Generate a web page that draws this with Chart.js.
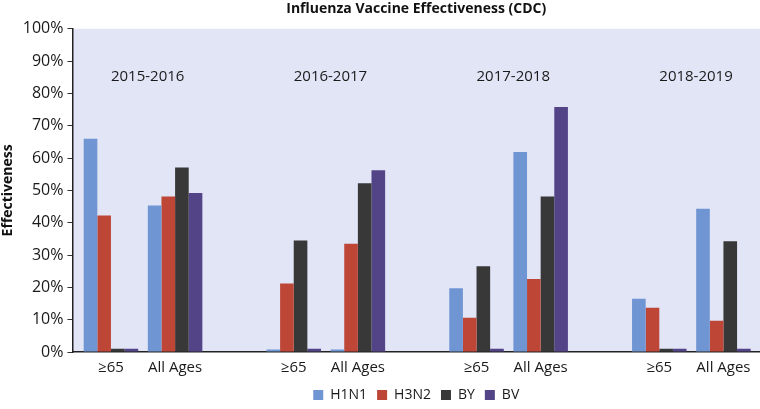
<!DOCTYPE html>
<html>
<head>
<meta charset="utf-8">
<script src="https://cdn.jsdelivr.net/npm/chart.js@4"></script>
<style>
  html, body { margin: 0; padding: 0; background: #fff; }
  #wrap { width: 760px; height: 409px; position: relative; }
</style>
</head>
<body>
<div id="wrap"><canvas id="chart"></canvas></div>
<script>
// data
const seasons = ['2015-2016', '2016-2017', '2017-2018', '2018-2019'];
const ageGroups = ['\u226565', 'All Ages'];
const h1n1 = [66, 45.3, 0.8, 0.8, 19.7, 61.9, 16.5, 44.3];
const h3n2 = [42.2, 48.1, 21.2, 33.5, 10.6, 22.6, 13.7, 9.7];
const by   = [1, 57.1, 34.5, 52.2, 26.5, 48.1, 1, 34.3];
const bv   = [1, 49.2, 1, 56.2, 1, 75.8, 1, 1];
const yTicks = [0, 10, 20, 30, 40, 50, 60, 70, 80, 90, 100];

// layout of the x axis: one unit between age groups, wider step between seasons
const seasonStep = 2.85;
const xPos = [];
const xLabels = [];
seasons.forEach((s, i) => {
  ageGroups.forEach((g, j) => {
    xPos.push(i * seasonStep + j);
    xLabels.push(g);
  });
});
const pts = arr => arr.map((v, i) => ({ x: xPos[i], y: v }));

const FONT = "'Open Sans', 'Noto Sans', sans-serif";

const plotBg = {
  id: 'plotBg',
  beforeDraw(chart) {
    const a = chart.chartArea, ctx = chart.ctx;
    ctx.save();
    ctx.fillStyle = '#e1e5f6';
    ctx.fillRect(a.left, a.top, a.right - a.left, a.bottom - a.top);
    ctx.restore();
  }
};

// title and legend are centred over the plot, not the whole canvas;
// legend pulled up a little closer to the axis labels
const centreOnPlot = {
  id: 'centreOnPlot',
  afterLayout(chart) {
    const a = chart.chartArea;
    [chart.titleBlock, chart.legend].forEach(b => {
      if (!b) return;
      b.left = a.left;
      b.right = a.right;
    });
    if (chart.legend) {
      chart.legend.top -= 5;
      chart.legend.bottom -= 5;
    }
  }
};

const seasonLabels = {
  id: 'seasonLabels',
  afterDatasetsDraw(chart) {
    const ctx = chart.ctx, xs = chart.scales.x, ys = chart.scales.y;
    ctx.save();
    ctx.font = '15px ' + FONT;
    ctx.fillStyle = '#1a1a1a';
    ctx.textAlign = 'left';
    ctx.textBaseline = 'middle';
    seasons.forEach((s, i) => {
      ctx.fillText(s, xs.getPixelForValue(xPos[i * 2]), ys.getPixelForValue(85.3));
    });
    ctx.restore();
  }
};

new Chart(document.getElementById('chart'), {
  type: 'bar',
  data: {
    datasets: [
      { label: 'H1N1', data: pts(h1n1), backgroundColor: '#6f95d2' },
      { label: 'H3N2', data: pts(h3n2), backgroundColor: '#bd4636' },
      { label: 'BY', data: pts(by), backgroundColor: '#383838' },
      { label: 'BV', data: pts(bv), backgroundColor: '#524487' }
    ]
  },
  options: {
    responsive: true,
    maintainAspectRatio: false,
    animation: false,
    datasets: { bar: { categoryPercentage: 0.85, barPercentage: 1 } },
    layout: { padding: { left: 0, right: 0, top: 0, bottom: -8 } },
    scales: {
      x: {
        type: 'linear',
        min: -0.6,
        max: 10.12,
        offset: false,
        afterBuildTicks(scale) { scale.ticks = xPos.map(v => ({ value: v })); },
        ticks: {
          autoSkip: false,
          maxRotation: 0,
          padding: 8,
          color: '#1a1a1a',
          font: { family: FONT, size: 15, lineHeight: 1 },
          callback: (v, i) => xLabels[i]
        },
        grid: { drawOnChartArea: false, drawTicks: false },
        border: { color: '#222', width: 1.5 }
      },
      y: {
        min: 0,
        max: 100,
        afterBuildTicks(scale) { scale.ticks = yTicks.map(v => ({ value: v })); },
        ticks: {
          padding: 4,
          color: '#1a1a1a',
          font: { family: FONT, size: 16 },
          callback: v => v + '%'
        },
        grid: { drawOnChartArea: false, drawTicks: true, tickLength: 5, color: '#333' },
        border: { color: '#222', width: 1.5 },
        title: {
          display: true,
          text: 'Effectiveness',
          color: '#111',
          font: { family: FONT, size: 14, weight: 'bold' },
          padding: { top: 0, bottom: 2 }
        }
      }
    },
    plugins: {
      title: {
        display: true,
        text: 'Influenza Vaccine Effectiveness (CDC)',
        color: '#111',
        font: { family: FONT, size: 14, weight: 'bold' },
        padding: { top: 1, bottom: 11 }
      },
      legend: {
        position: 'bottom',
        labels: {
          boxWidth: 10,
          boxHeight: 10,
          padding: 10,
          color: '#1a1a1a',
          font: { family: FONT, size: 14, lineHeight: 1 }
        }
      },
      tooltip: { enabled: false }
    }
  },
  plugins: [plotBg, centreOnPlot, seasonLabels]
});
</script>
</body>
</html>
